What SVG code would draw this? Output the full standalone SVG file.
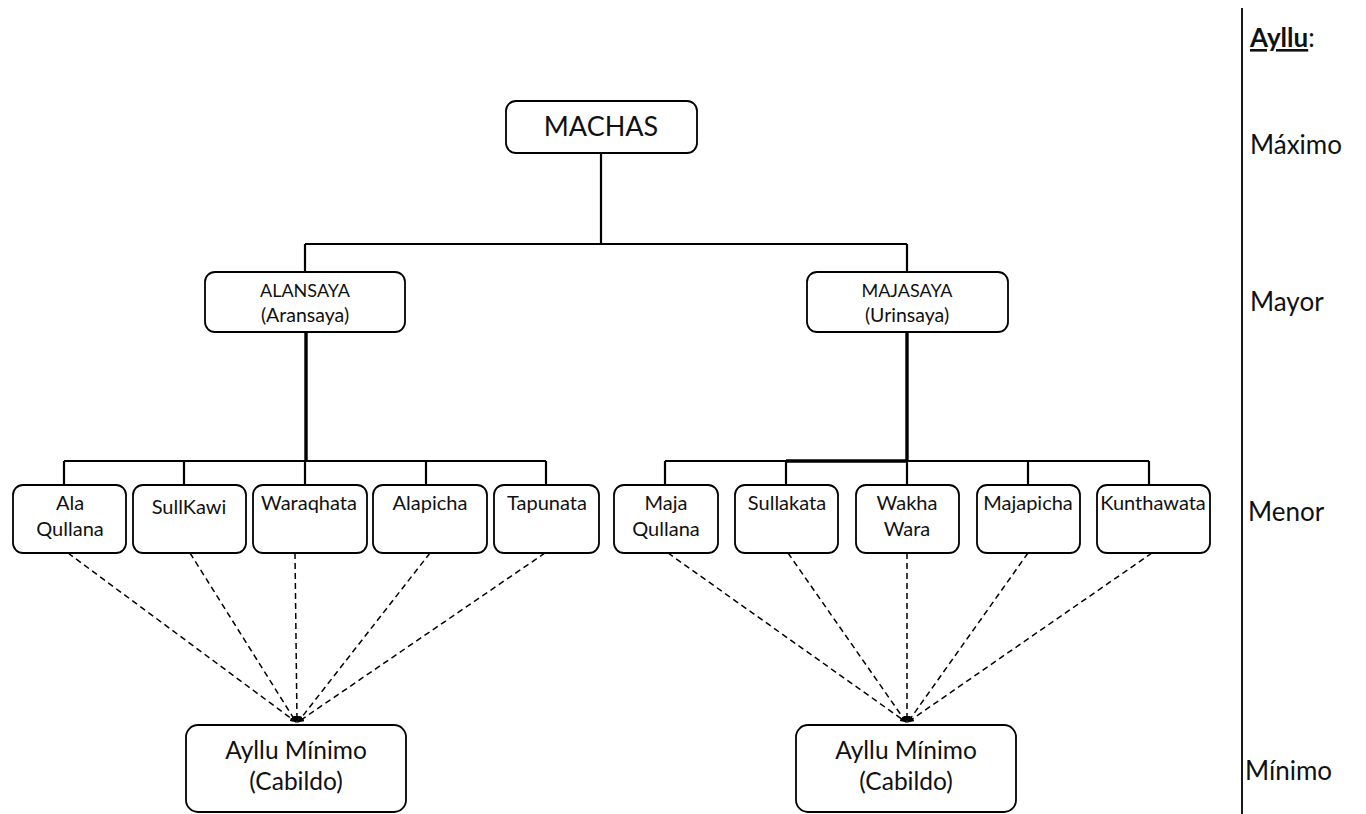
<svg xmlns="http://www.w3.org/2000/svg" width="1366" height="814" viewBox="0 0 1366 814">
<style>
.box{fill:#fff;stroke:#000;stroke-width:1.8}
.t{font-family:Lato,"Open Sans",sans-serif;fill:#111;text-anchor:middle}
.s1{font-size:27px}
.s2{font-size:18px}
.s2b{font-size:19.5px}
.s3{font-size:20px}
.s4{font-size:24.5px}
.lab{font-family:Lato,"Open Sans",sans-serif;fill:#111;font-size:26px}
.c{stroke:#000;fill:none;stroke-width:2.2}
.ck{stroke:#000;fill:none;stroke-width:3.4}
.d{stroke:#000;fill:none;stroke-width:1.5;stroke-dasharray:6,4;marker-end:url(#ah)}
</style>
<defs>
<marker id="ah" markerWidth="7" markerHeight="6" refX="6" refY="3" orient="auto" markerUnits="userSpaceOnUse">
<path d="M0,0 L7,3 L0,6 Z" fill="#000"/>
</marker>
</defs>
<g id="connectors">
<path class="c" d="M601,153 V244 M305,244 H907 M305,244 V272 M907,244 V272"/>
<path class="ck" d="M306,332 V461 M907,332 V461"/>
<path class="c" d="M64,461 H546 M64,461 V485 M184,461 V485 M305,461 V485 M426,461 V485 M546,461 V485"/>
<path class="c" d="M665,461 H1149 M665,461 V485 M786,461 V485 M907,461 V485 M1028,461 V485 M1149,461 V485"/>
<path class="ck" d="M786,461 H907"/>
<path class="d" d="M68,553 L296,722"/>
<path class="d" d="M190,553 L296,722"/>
<path class="d" d="M295,553 L297,722"/>
<path class="d" d="M430,553 L298,722"/>
<path class="d" d="M545,553 L298,722"/>
<path class="d" d="M668,553 L906,722"/>
<path class="d" d="M788,553 L906,722"/>
<path class="d" d="M907,553 L907,722"/>
<path class="d" d="M1028,553 L908,722"/>
<path class="d" d="M1152,553 L908,722"/>
</g>
<g id="machas"><rect class="box" x="506" y="101" width="191" height="52" rx="10"/><text class="t s1" x="601" y="136">MACHAS</text></g>
<g id="alansaya"><rect class="box" x="205" y="272" width="200" height="60" rx="10"/><text class="t s2" x="305" y="297">ALANSAYA</text><text class="t s2b" x="305" y="322">(Aransaya)</text></g>
<g id="majasaya"><rect class="box" x="807" y="272" width="201" height="60" rx="10"/><text class="t s2" x="907" y="297">MAJASAYA</text><text class="t s2b" x="907" y="322">(Urinsaya)</text></g>
<g id="ala-qullana"><rect class="box" x="13" y="485" width="113" height="68" rx="10"/><text class="t s3" x="70" y="510">Ala</text><text class="t s3" x="70" y="536">Qullana</text></g>
<g id="sullkawi"><rect class="box" x="133" y="485" width="113" height="68" rx="10"/><text class="t s3" x="189" y="514">SullKawi</text></g>
<g id="waraqhata"><rect class="box" x="253" y="485" width="114" height="68" rx="10"/><text class="t s3" x="309" y="510">Waraqhata</text></g>
<g id="alapicha"><rect class="box" x="373" y="485" width="114" height="68" rx="10"/><text class="t s3" x="430" y="510">Alapicha</text></g>
<g id="tapunata"><rect class="box" x="494" y="485" width="105" height="68" rx="10"/><text class="t s3" x="547" y="510">Tapunata</text></g>
<g id="maja-qullana"><rect class="box" x="614" y="485" width="104" height="68" rx="10"/><text class="t s3" x="666" y="510">Maja</text><text class="t s3" x="666" y="536">Qullana</text></g>
<g id="sullakata"><rect class="box" x="735" y="485" width="103" height="68" rx="10"/><text class="t s3" x="787" y="510">Sullakata</text></g>
<g id="wakha-wara"><rect class="box" x="856" y="485" width="103" height="68" rx="10"/><text class="t s3" x="907" y="510">Wakha</text><text class="t s3" x="907" y="536">Wara</text></g>
<g id="majapicha"><rect class="box" x="977" y="485" width="103" height="68" rx="10"/><text class="t s3" x="1028" y="510">Majapicha</text></g>
<g id="kunthawata"><rect class="box" x="1097" y="485" width="113" height="68" rx="10"/><text class="t s3" x="1153" y="510">Kunthawata</text></g>
<g id="minimo-left"><rect class="box" x="186" y="725" width="220" height="87" rx="12"/><text class="t s4" x="296" y="759">Ayllu Mínimo</text><text class="t s4" x="296" y="790">(Cabildo)</text></g>
<g id="minimo-right"><rect class="box" x="796" y="725" width="220" height="87" rx="12"/><text class="t s4" x="906" y="759">Ayllu Mínimo</text><text class="t s4" x="906" y="790">(Cabildo)</text></g>
<g id="legend">
<line x1="1242" y1="8" x2="1242" y2="814" stroke="#000" stroke-width="1.8"/>
<text class="lab" x="1250" y="47" font-size="24px"><tspan font-weight="bold" text-decoration="underline">Ayllu</tspan>:</text>
<text class="lab" x="1250" y="154">Máximo</text>
<text class="lab" x="1250" y="311">Mayor</text>
<text class="lab" x="1248" y="521">Menor</text>
<text class="lab" x="1245" y="780">Mínimo</text>
</g>
</svg>
